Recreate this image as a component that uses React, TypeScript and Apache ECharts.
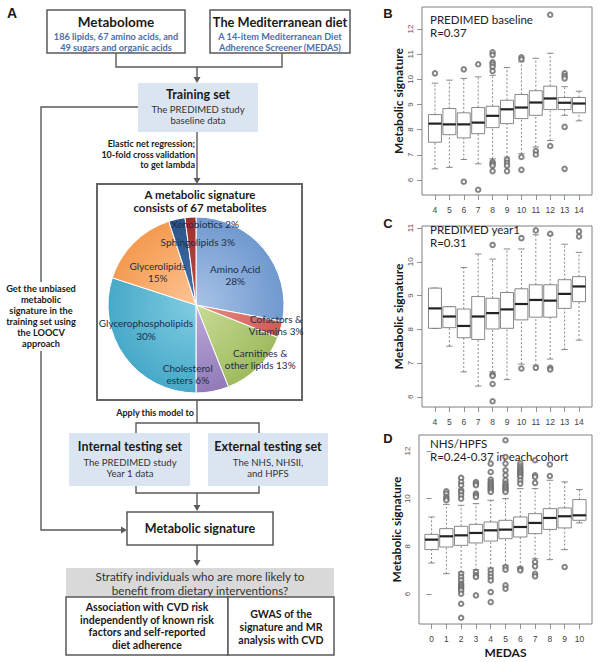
import React, { useEffect, useRef } from "react";
import * as echarts from "echarts";

// ---------- Pie (panel A) ----------
const pieNames = [
  "Amino Acid",
  "Cofactors &\nVitamins",
  "Carnitines &\nother lipids",
  "Cholesterol\nesters",
  "Glycerophospholipids",
  "Glycerolipids",
  "Sphingolipids",
  "Xenobiotics",
];
const pieValues = [28, 3, 13, 6, 30, 15, 3, 2];
const pieSeparators = ["\n", " ", " ", " ", "\n", "\n", " ", " "];
const pieColors = [
  ["#a8c3e6", "#7099cf"],
  ["#e8908a", "#cf5a53"],
  ["#c8dc96", "#9fbb5e"],
  ["#bcaada", "#917ab7"],
  ["#80cde2", "#47a9c8"],
  ["#fdc494", "#f49a50"],
  ["#4673ab", "#285489"],
  ["#bf4d47", "#9b2f2b"],
];

// ---------- Box plots ----------
const medasB = [4, 5, 6, 7, 8, 9, 10, 11, 12, 13, 14];
// [lower whisker, Q1, median, Q3, upper whisker]
const boxB = [
  [6.44, 7.5, 8.24, 8.6, 9.85],
  [6.5, 7.8, 8.21, 8.84, 9.97],
  [6.81, 7.67, 8.21, 8.67, 10.04],
  [6.64, 7.84, 8.28, 8.88, 10.1],
  [6.84, 8.08, 8.55, 8.93, 10.16],
  [6.91, 8.24, 8.81, 9.17, 10.47],
  [7.04, 8.44, 8.88, 9.4, 10.7],
  [7.31, 8.57, 9.08, 9.55, 10.84],
  [7.57, 8.8, 9.24, 9.73, 11.04],
  [8.57, 8.8, 9.07, 9.28, 9.71],
  [8.35, 8.67, 9.04, 9.28, 9.53],
];
const outliersB = [
  [10.24],
  [],
  [10.4, 5.93],
  [10.6, 5.61],
  [11.08, 10.97, 10.68, 10.6, 10.5, 10.33, 6.71, 6.64, 6.57, 6.35],
  [6.8, 6.68, 6.57, 6.35],
  [10.88, 10.8, 6.91, 6.4],
  [7.15, 7.01],
  [12.57, 7.35],
  [10.24, 10.13, 10.04, 8.11, 6.44],
  [],
];
const yTicksB = [6, 7, 8, 9, 10, 11, 12];

const medasC = [4, 5, 6, 7, 8, 9, 10, 11, 12, 13, 14];
const boxC = [
  [8.03, 8.03, 8.62, 9.22, 9.22],
  [7.5, 8.05, 8.38, 8.67, 8.67],
  [6.74, 7.75, 8.1, 8.6, 9.83],
  [6.32, 7.7, 8.38, 8.97, 10.23],
  [6.74, 8.01, 8.48, 8.92, 10.08],
  [6.51, 8.03, 8.59, 9.09, 10.38],
  [6.97, 8.28, 8.75, 9.2, 10.38],
  [6.94, 8.36, 8.87, 9.32, 10.8],
  [7.12, 8.36, 8.85, 9.32, 10.8],
  [7.4, 8.62, 9.05, 9.47, 10.52],
  [7.68, 8.82, 9.27, 9.56, 10.28],
];
const outliersC = [
  [],
  [],
  [],
  [],
  [10.5, 6.66, 6.62, 6.38, 5.87],
  [],
  [10.7, 6.84],
  [10.93, 6.86],
  [10.83, 6.86, 6.81],
  [11.07],
  [10.9, 10.75],
];
const yTicksC = [6, 7, 8, 9, 10, 11];

const medasD = [0, 1, 2, 3, 4, 5, 6, 7, 8, 9, 10];
const boxD = [
  [7.3, 7.86, 8.28, 8.5, 9.23],
  [6.85, 7.97, 8.42, 8.74, 9.76],
  [6.92, 8.04, 8.46, 8.84, 9.72],
  [7.02, 8.14, 8.56, 8.92, 9.79],
  [7.09, 8.22, 8.67, 9.02, 9.93],
  [7.2, 8.32, 8.7, 9.09, 10.0],
  [7.13, 8.39, 8.81, 9.23, 10.42],
  [7.48, 8.53, 8.98, 9.37, 10.42],
  [7.44, 8.71, 9.19, 9.58, 10.77],
  [7.86, 8.77, 9.26, 9.61, 10.7],
  [8.98, 9.09, 9.3, 9.96, 10.38],
];
const outliersD = [
  [],
  [10.31, 10.21, 10.07, 10.0, 9.93],
  [10.87, 10.7, 10.56, 10.35, 10.28, 10.14, 10.0, 6.85, 6.71, 6.57, 6.43, 6.36, 6.29, 6.22, 6.15, 6.01, 5.59, 5.0],
  [10.7, 10.63, 10.56, 10.21, 10.14, 10.07, 6.92, 6.78, 6.71, 5.94],
  [11.47, 11.12, 10.8, 10.7, 10.63, 10.56, 10.49, 10.42, 10.35, 10.28, 6.99, 6.85, 6.71, 6.57, 6.08, 5.66],
  [12.45, 11.75, 11.47, 11.19, 10.98, 10.77, 10.63, 10.56, 10.49, 10.42, 10.35, 10.28, 7.13, 7.02, 6.36, 6.22],
  [11.47, 11.36, 11.26, 11.19, 11.12, 11.05, 10.98, 10.91, 10.77, 10.63, 7.06, 6.99],
  [11.61, 10.98, 10.91, 10.66, 7.34, 7.16, 6.85, 6.74],
  [11.43, 10.95],
  [7.13],
  [],
];
const yTicksD = [6, 8, 10, 12];

// ---------- helpers ----------
const LINE = "#5a5a5a";
const FLOW_FONT = "Lato";
const BLUE_TXT = "#4a6ea8";
const BOX_FILL = "#dbe5f1";

function txt(x: number, y: number, text: string, size: number, opts: any = {}) {
  return {
    type: "text",
    x,
    y,
    silent: true,
    style: {
      text,
      fontSize: size,
      fontWeight: opts.weight || "normal",
      fontFamily: opts.family || FLOW_FONT,
      fill: opts.color || "#1a1a1a",
      align: opts.align || "center",
      verticalAlign: opts.valign || "middle",
      lineHeight: opts.lh || size * 1.2,
    },
  };
}
function rect(x: number, y: number, w: number, h: number, fill: string, stroke: string | null, lw = 1.5) {
  return {
    type: "rect",
    silent: true,
    shape: { x, y, width: w, height: h },
    style: { fill, stroke: stroke || "none", lineWidth: stroke ? lw : 0 },
  };
}
function poly(points: number[][]) {
  return {
    type: "polyline",
    silent: true,
    shape: { points },
    style: { stroke: LINE, lineWidth: 1.4, fill: null },
  };
}
function arrowDown(x: number, y: number) {
  return {
    type: "polygon",
    silent: true,
    shape: { points: [[x - 3.5, y - 6], [x + 3.5, y - 6], [x, y]] },
    style: { fill: LINE },
  };
}
function arrowRight(x: number, y: number) {
  return {
    type: "polygon",
    silent: true,
    shape: { points: [[x - 6, y - 3.5], [x - 6, y + 3.5], [x, y]] },
    style: { fill: LINE },
  };
}

function boxData(xs: number[], boxes: number[][]) {
  return xs.map((x, i) => [x, ...boxes[i]]);
}
function outlierData(xs: number[], outs: number[][]) {
  const res: number[][] = [];
  xs.forEach((x, i) => outs[i].forEach((v) => res.push([x, v])));
  return res;
}

const boxRender = (params: any, api: any) => {
  const x = api.value(0);
  const p = [1, 2, 3, 4, 5].map((i) => api.coord([x, api.value(i)]));
  const w = api.size([1, 0])[0];
  const half = w * 0.45;
  const st = half * 0.5;
  const cx = p[0][0];
  const ls = { stroke: "#6a6a6a", lineWidth: 0.8 };
  return {
    type: "group",
    children: [
      { type: "line", shape: { x1: cx, y1: p[0][1], x2: cx, y2: p[1][1] }, style: { ...ls, lineDash: [2, 2] } },
      { type: "line", shape: { x1: cx, y1: p[3][1], x2: cx, y2: p[4][1] }, style: { ...ls, lineDash: [2, 2] } },
      { type: "line", shape: { x1: cx - st, y1: p[0][1], x2: cx + st, y2: p[0][1] }, style: ls },
      { type: "line", shape: { x1: cx - st, y1: p[4][1], x2: cx + st, y2: p[4][1] }, style: ls },
      {
        type: "rect",
        shape: { x: cx - half, y: p[3][1], width: 2 * half, height: p[1][1] - p[3][1] },
        style: { fill: "#fff", ...ls },
      },
      { type: "line", shape: { x1: cx - half, y1: p[2][1], x2: cx + half, y2: p[2][1] }, style: { stroke: "#222", lineWidth: 2.2 } },
    ],
  };
};

function makeXAxis(idx: number, min: number, max: number, ticks: number[], name = "") {
  return {
    type: "value",
    gridIndex: idx,
    min,
    max,
    name,
    nameLocation: "middle",
    nameGap: 22,
    nameTextStyle: { fontFamily: FLOW_FONT, fontWeight: "bold", fontSize: 12, color: "#1a1a1a" },
    axisLine: { show: false },
    splitLine: { show: false },
    axisTick: { show: true, customValues: ticks, length: 5, lineStyle: { color: "#777", width: 0.8 } },
    axisLabel: {
      customValues: ticks,
      fontSize: 8.5,
      color: "#444",
      margin: 10,
      fontFamily: "Liberation Sans",
      formatter: (v: number) => String(v),
    },
  };
}
function makeYAxis(idx: number, min: number, max: number, ticks: number[], gap: number) {
  return {
    type: "value",
    gridIndex: idx,
    min,
    max,
    name: "Metabolic signature",
    nameLocation: "middle",
    nameGap: gap,
    nameRotate: 90,
    nameTextStyle: { fontFamily: FLOW_FONT, fontWeight: "bold", fontSize: 12, color: "#1a1a1a" },
    axisLine: { show: false },
    splitLine: { show: false },
    axisTick: { show: true, customValues: ticks, length: 5, lineStyle: { color: "#777", width: 0.8 } },
    axisLabel: {
      customValues: ticks,
      rotate: 90,
      fontSize: 8,
      color: "#555",
      margin: 8,
      fontFamily: "Liberation Sans",
      formatter: (v: number) => String(v),
    },
  };
}

const pieLabelShift = [
  [3, 0],
  [35, 7],
  [31, 21],
  [-17, 23],
  [-12, -3],
  [-5, 0],
  [12, -17],
  [12, -34],
];

const flow: any[] = [
  txt(12, 13, "A", 14, { weight: "bold", family: "Liberation Sans" }),
  rect(47, 10, 138, 43, "#fff", LINE),
  txt(116, 21.5, "Metabolome", 13.5, { weight: "bold" }),
  txt(116, 41.5, "186 lipids, 67 amino acids, and\n49 sugars and organic acids", 9.2, { weight: "bold", color: BLUE_TXT, lh: 11 }),
  rect(210, 10, 140, 43, "#fff", LINE),
  txt(280, 21.5, "The Mediterranean diet", 12.8, { weight: "bold" }),
  txt(280, 41.5, "A 14-item Mediterranean Diet\nAdherence Screener (MEDAS)", 9.2, { weight: "bold", color: BLUE_TXT, lh: 11 }),
  poly([[116, 53], [116, 67], [282, 67], [282, 53]]),
  poly([[197, 67], [197, 80]]),
  arrowDown(197, 83),
  rect(138, 83, 120, 49, BOX_FILL, null),
  txt(198, 94, "Training set", 12.5, { weight: "bold" }),
  txt(198, 115, "The PREDIMED study\nbaseline data", 9.6, { lh: 11.5, color: "#333" }),
  poly([[138, 107], [41, 107], [41, 282]]),
  poly([[41, 351], [41, 530], [124, 530]]),
  arrowRight(127, 530),
  txt(41, 316, "Get the unbiased\nmetabolic\nsignature in the\ntraining set using\nthe LOOCV\napproach", 9.2, { weight: "bold", lh: 11 }),
  poly([[197, 132], [197, 180]]),
  arrowDown(197, 184),
  txt(195, 154, "Elastic net regression;\n10-fold cross validation\nto get lambda", 9, { weight: "bold", align: "right", lh: 10.8 }),
  rect(97, 184, 205, 216, "none", "#666", 2),
  txt(200, 201, "A metabolic signature\nconsists of 67 metabolites", 11.5, { weight: "bold", lh: 13.8 }),
  poly([[197, 400], [197, 423]]),
  txt(194, 412, "Apply this model to", 9, { weight: "bold", align: "right" }),
  poly([[136, 433], [136, 423], [259, 423], [259, 433]]),
  rect(69, 433, 121, 53, BOX_FILL, null),
  txt(130, 446, "Internal testing set", 12.5, { weight: "bold" }),
  txt(130, 468, "The PREDIMED study\nYear 1 data", 9.6, { lh: 11.5, color: "#333" }),
  rect(208, 433, 120, 53, BOX_FILL, null),
  txt(268, 446, "External testing set", 12.5, { weight: "bold" }),
  txt(268, 468, "The NHS, NHSII,\nand HPFS", 9.6, { lh: 11.5, color: "#333" }),
  poly([[136, 486], [136, 493], [259, 493], [259, 486]]),
  poly([[197, 493], [197, 507]]),
  arrowDown(197, 511),
  rect(127, 512, 146, 33, "#fff", LINE),
  txt(200, 528, "Metabolic signature", 12.5, { weight: "bold" }),
  poly([[197, 545], [197, 562]]),
  arrowDown(197, 566),
  rect(66, 568, 268, 29, "#d9d9d9", null),
  txt(200, 583.5, "Stratify individuals who are more likely to\nbenefit from dietary interventions?", 11.6, { lh: 13.9, color: "#333" }),
  rect(66, 597, 162, 58, "#fff", LINE),
  rect(228, 597, 106, 58, "#fff", LINE),
  txt(147, 626, "Association with CVD risk\nindependently of known risk\nfactors and self-reported\ndiet adherence", 10.6, { weight: "bold", lh: 12.7 }),
  txt(281, 627, "GWAS of the\nsignature and MR\nanalysis with CVD", 10.6, { weight: "bold", lh: 12.7 }),
  // box plot panel letters and annotations
  txt(388, 13, "B", 13, { weight: "bold", family: "Liberation Sans" }),
  txt(388, 223, "C", 13, { weight: "bold", family: "Liberation Sans" }),
  txt(388, 438, "D", 13, { weight: "bold", family: "Liberation Sans" }),
  txt(430, 19, "PREDIMED baseline", 11.5, { align: "left", color: "#222" }),
  txt(430, 32.8, "R=0.37", 11.5, { align: "left", color: "#222" }),
  txt(430, 229, "PREDIMED year1", 11.5, { align: "left", color: "#222" }),
  txt(430, 242.8, "R=0.31", 11.5, { align: "left", color: "#222" }),
  txt(430, 443, "NHS/HPFS", 11.5, { align: "left", color: "#222" }),
  txt(430, 456.8, "R=0.24-0.37 in each cohort", 11.5, { align: "left", color: "#222" }),
];

const gridStyle = { show: true, borderColor: "#808080", borderWidth: 1, backgroundColor: "transparent" };

const outlierStyle = {
  type: "scatter",
  symbol: "emptyCircle",
  symbolSize: 4.5,
  itemStyle: { color: "#666", borderWidth: 0.7 },
  silent: true,
};

const option: any = {
  animation: false,
  backgroundColor: "#fff",
  grid: [
    { left: 422, top: 7, width: 170, height: 188, ...gridStyle },
    { left: 422, top: 226, width: 170, height: 181, ...gridStyle },
    { left: 419, top: 435, width: 173, height: 189, ...gridStyle },
  ],
  xAxis: [
    makeXAxis(0, 3.1, 14.9, medasB),
    makeXAxis(1, 3.1, 14.9, medasC),
    makeXAxis(2, -0.85, 10.85, medasD, "MEDAS"),
  ],
  yAxis: [
    makeYAxis(0, 5.4, 12.88, yTicksB, 18),
    makeYAxis(1, 5.7, 11.06, yTicksC, 18),
    makeYAxis(2, 4.74, 12.67, yTicksD, 15),
  ],
  series: [
    {
      type: "custom",
      xAxisIndex: 0,
      yAxisIndex: 0,
      renderItem: boxRender,
      encode: { x: 0, y: [1, 2, 3, 4, 5] },
      data: boxData(medasB, boxB),
      silent: true,
    },
    { ...outlierStyle, xAxisIndex: 0, yAxisIndex: 0, data: outlierData(medasB, outliersB) },
    {
      type: "custom",
      xAxisIndex: 1,
      yAxisIndex: 1,
      renderItem: boxRender,
      encode: { x: 0, y: [1, 2, 3, 4, 5] },
      data: boxData(medasC, boxC),
      silent: true,
    },
    { ...outlierStyle, xAxisIndex: 1, yAxisIndex: 1, data: outlierData(medasC, outliersC) },
    {
      type: "custom",
      xAxisIndex: 2,
      yAxisIndex: 2,
      renderItem: boxRender,
      encode: { x: 0, y: [1, 2, 3, 4, 5] },
      data: boxData(medasD, boxD),
      silent: true,
    },
    { ...outlierStyle, xAxisIndex: 2, yAxisIndex: 2, data: outlierData(medasD, outliersD) },
    {
      type: "pie",
      center: [196, 305],
      radius: 88,
      startAngle: 90,
      clockwise: true,
      avoidLabelOverlap: false,
      silent: true,
      itemStyle: { borderColor: "#fff", borderWidth: 1 },
      labelLine: { show: false },
      label: {
        show: true,
        position: "inside",
        color: "#1f2d4a",
        fontSize: 10,
        fontFamily: FLOW_FONT,
        lineHeight: 12.5,
        formatter: (p: any) => `${pieNames[p.dataIndex]}${pieSeparators[p.dataIndex]}${pieValues[p.dataIndex]}%`,
      },
      labelLayout: (params: any) => ({
        dx: pieLabelShift[params.dataIndex][0],
        dy: pieLabelShift[params.dataIndex][1],
      }),
      data: pieNames.map((n, i) => ({
        name: n,
        value: pieValues[i],
        itemStyle: {
          color: {
            type: "radial",
            x: 196,
            y: 305,
            r: 88,
            global: true,
            colorStops: [
              { offset: 0, color: pieColors[i][0] },
              { offset: 1, color: pieColors[i][1] },
            ],
          },
        },
      })),
    },
  ],
  graphic: { elements: flow },
};

export default function App() {
  const ref = useRef<HTMLDivElement>(null);
  useEffect(() => {
    const chart = echarts.init(ref.current as HTMLDivElement, null, { renderer: "svg" });
    chart.setOption(option);
    return () => chart.dispose();
  }, []);
  return (
    <div
      ref={ref}
      style={{ position: "absolute", left: 0, top: 0, width: 600, height: 662, background: "#fff" }}
    />
  );
}
